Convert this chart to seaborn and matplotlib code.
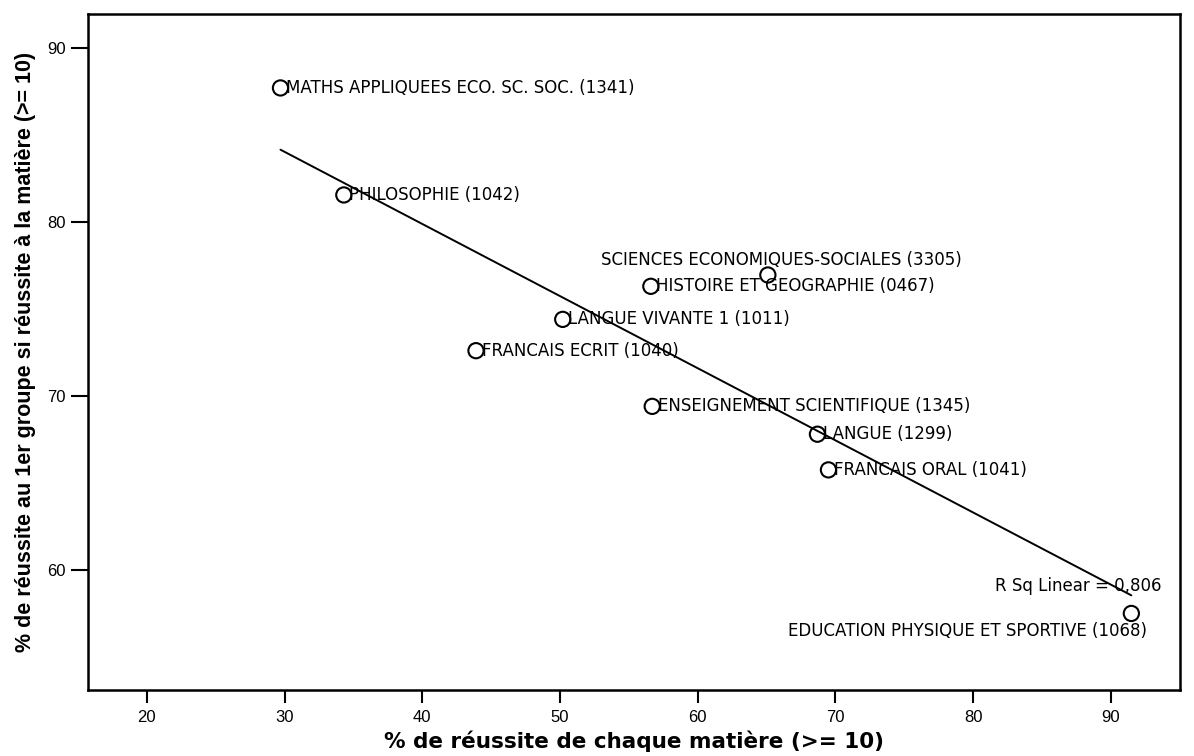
import matplotlib
matplotlib.use("Agg")
import matplotlib.pyplot as plt
import seaborn as sns
import pandas as pd
import numpy as np

subjects = [
    "MATHS APPLIQUEES ECO. SC. SOC. (1341)",
    "PHILOSOPHIE (1042)",
    "SCIENCES ECONOMIQUES-SOCIALES (3305)",
    "HISTOIRE ET GEOGRAPHIE (0467)",
    "LANGUE VIVANTE 1 (1011)",
    "FRANCAIS ECRIT (1040)",
    "ENSEIGNEMENT SCIENTIFIQUE (1345)",
    "LANGUE (1299)",
    "FRANCAIS ORAL (1041)",
    "EDUCATION PHYSIQUE ET SPORTIVE (1068)",
]
reussite_matiere = [29.7, 34.3, 65.1, 56.6, 50.2, 43.9, 56.7, 68.7, 69.5, 91.5]
reussite_groupe = [87.7, 81.55, 76.95, 76.3, 74.4, 72.6, 69.4, 67.8, 65.75, 57.5]
x_ticks = [20, 30, 40, 50, 60, 70, 80, 90]
y_ticks = [60, 70, 80, 90]
r2_text = "R Sq Linear = 0,806"

df = pd.DataFrame({"x": reussite_matiere, "y": reussite_groupe, "label": subjects})

sns.set_theme(style="white")
plt.rcParams["font.family"] = ["Liberation Sans", "DejaVu Sans"]
plt.rcParams["font.stretch"] = "normal"

fig = plt.figure(figsize=(11.94, 7.56), dpi=100)
ax = fig.add_axes([0.0737, 0.0873, 0.9143, 0.8942])

sns.regplot(data=df, x="x", y="y", ax=ax, ci=None, truncate=True,
            scatter_kws=dict(s=120, facecolors="none", edgecolors="black",
                             linewidths=1.5, alpha=1),
            line_kws=dict(color="black", lw=1.4))

ann_font = ["DejaVu Sans"]
# label placement (offsets in points)
offsets = {
    0: (4, 0, "left"),
    1: (4, 0, "left"),
    2: (10, 11, "center"),
    3: (4, 0, "left"),
    4: (4, 0, "left"),
    5: (4, 0, "left"),
    6: (4, 0, "left"),
    7: (4, 0, "left"),
    8: (4, 0, "left"),
    9: (11, -13, "right"),
}
for i, row in df.iterrows():
    dx, dy, ha = offsets[i]
    ax.annotate(row["label"], (row["x"], row["y"]), xytext=(dx, dy),
                textcoords="offset points", ha=ha, va="center", fontsize=12,
                color="black", family=ann_font, fontstretch="normal")

ax.annotate(r2_text, (reussite_matiere[-1], reussite_groupe[-1]), xytext=(22, 20),
            textcoords="offset points", ha="right", va="center", fontsize=12,
            color="black", family=ann_font, fontstretch="normal")

ax.set_xlim(15.72, 95.01)
ax.set_ylim(53.10, 91.95)
ax.set_xticks(x_ticks)
ax.set_yticks(y_ticks)
ax.tick_params(axis="both", which="both", direction="out", width=1.5,
               labelsize=12, colors="black", bottom=True, left=True)
ax.tick_params(axis="y", length=12, pad=4)
ax.tick_params(axis="x", length=9.5, pad=5)
for sp in ax.spines.values():
    sp.set_visible(True)
    sp.set_color("black")
    sp.set_linewidth(1.8)

ax.set_xlabel("% de réussite de chaque matière (>= 10)", fontsize=15.5,
              fontweight="bold", labelpad=4, family=["DejaVu Sans"],
              fontstretch="normal", color="black")
ax.set_ylabel("% de réussite au 1er groupe si réussite à la matière (>= 10)",
              fontsize=15.5, fontweight="bold", labelpad=8, color="black")
ax.grid(False)

fig.savefig("out.png", dpi=100, facecolor="white")
